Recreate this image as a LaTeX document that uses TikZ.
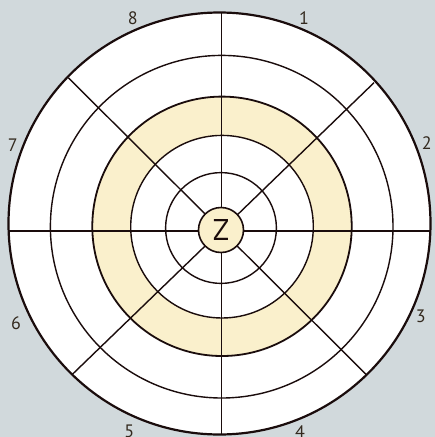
\documentclass[tikz,border=0pt]{standalone}
\usepackage{fontspec}
\setmainfont{PT Sans}
\definecolor{bg}{HTML}{D1D9DC}
\definecolor{ring}{HTML}{FAF0CC}
\definecolor{ink}{HTML}{1A0C0C}
\definecolor{txt}{HTML}{33291E}
\begin{document}
\begin{tikzpicture}[x=1pt,y=-1pt,
  thin line/.style={draw=ink,line width=1.4pt},
  lbl/.style={text=txt,font=\fontsize{18}{18}\selectfont,inner sep=0pt}]
\fill[bg] (0,0) rectangle (435,437);
\useasboundingbox (0,0) rectangle (435,437);
% outer white disc
\fill[white] (219.5,223.5) circle[radius=211];
% yellow ring
\fill[ring,even odd rule] (222,226.3) circle[radius=129.7] (222,226.7) circle[radius=91.3];
% spokes
\coordinate (vt) at (221.7,13);
\coordinate (vb) at (221.7,434);
\coordinate (hl) at (8,231);
\coordinate (hr) at (430.5,231);
\coordinate (d1a) at (68.3,77.7);
\coordinate (d1b) at (366.7,375);
\coordinate (d2a) at (374,82.7);
\coordinate (d2b) at (72.7,374);
\draw[thin line] (vt) -- (vb);
\draw[thin line] (hl) -- (hr);
\draw[thin line] (d1a) -- (d1b);
\draw[thin line] (d2a) -- (d2b);
% circles
\draw[thin line] (221.7,226.7) circle[radius=171.3];
\draw[draw=ink,line width=1.8pt] (222,226.3) circle[radius=129.7];
\draw[thin line] (222,226.7) circle[radius=91.3];
\draw[thin line] (221,228) circle[radius=55.4];
\draw[draw=ink,line width=2.2pt] (219.5,223.5) circle[radius=211];
% centre
\node[circle,fill=ring,draw=ink,line width=1.6pt,minimum size=45pt,inner sep=0pt,
  font=\fontsize{30}{30}\selectfont,text=ink] (z) at (221,230) {Z};
% labels
\node[lbl] (l1) at (304,18) {1};
\node[lbl] (l2) at (426.7,142.7) {2};
\node[lbl] (l3) at (420.7,316.7) {3};
\node[lbl] (l4) at (300,431.7) {4};
\node[lbl] (l5) at (129.3,431.7) {5};
\node[lbl] (l6) at (16,323.3) {6};
\node[lbl] (l7) at (12.7,145) {7};
\node[lbl] (l8) at (132.7,18.3) {8};
\end{tikzpicture}
\end{document}
